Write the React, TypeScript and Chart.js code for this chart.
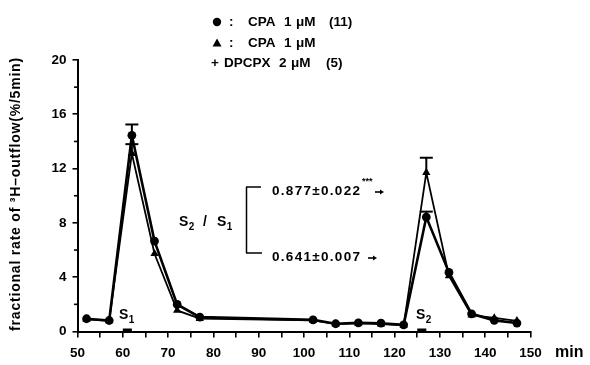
import React, { useEffect, useRef } from 'react';
import { Chart, registerables } from 'chart.js';

Chart.register(...registerables);

// ---- data ----
const times = [52, 57, 62, 67, 72, 77, 102, 107, 112, 117, 122, 127, 132, 137, 142, 147];
const cpaValues = [0.94, 0.81, 14.45, 6.66, 1.99, 1.06, 0.86, 0.57, 0.64, 0.61, 0.49, 8.43, 4.35, 1.3, 0.82, 0.62];
const cpaSem = [0, 0, 0.8, 0, 0, 0, 0, 0, 0, 0, 0, 0.4, 0, 0, 0, 0];
const cpaDpcpxValues = [0.9, 0.78, 13.1, 5.73, 1.55, 0.95, 0.82, 0.55, 0.6, 0.55, 0.45, 11.7, 4.1, 1.2, 1.0, 0.78];
const cpaDpcpxSem = [0, 0, 0.7, 0, 0, 0, 0, 0, 0, 0, 0, 1.1, 0, 0, 0, 0];
const stimPeriods = [
  [60, 62],
  [125, 127],
];
const ratioLabels = ['0.877\u00b10.022', '0.641\u00b10.007'];
const yTitle = 'fractional rate of \u00b3H\u2013outflow(%/5min)';
const xUnit = 'min';

const FONT = '"Liberation Sans", Arial, sans-serif';

function drawSub(ctx: CanvasRenderingContext2D, x: number, y: number, main: string, sub: string) {
  ctx.font = `bold 14px ${FONT}`;
  ctx.textAlign = 'left';
  ctx.textBaseline = 'middle';
  ctx.fillText(main, x, y);
  const w = ctx.measureText(main).width;
  ctx.font = `bold 10px ${FONT}`;
  ctx.fillText(sub, x + w + 0.5, y + 5);
}

const annotationPlugin = {
  id: 'figureAnnotations',
  afterDatasetsDraw(chart: any) {
    const { ctx, scales } = chart;
    const xs = scales.x;
    const ys = scales.y;
    ctx.save();
    ctx.fillStyle = '#000';
    ctx.strokeStyle = '#000';

    const line = (x1: number, y1: number, x2: number, y2: number) => {
      ctx.beginPath();
      ctx.moveTo(x1, y1);
      ctx.lineTo(x2, y2);
      ctx.stroke();
    };

    // minor y ticks (shorter)
    ctx.lineWidth = 1.6;
    ys.ticks.forEach((t: any) => {
      if (t.value % 4 === 0) return;
      const py = ys.getPixelForValue(t.value);
      line(xs.left - 3.5, py, xs.left, py);
    });

    // error bars (upper)
    const drawErr = (vals: number[], sems: number[]) => {
      times.forEach((t, i) => {
        if (!sems[i]) return;
        const px = xs.getPixelForValue(t);
        const top = ys.getPixelForValue(vals[i] + sems[i]);
        const base = ys.getPixelForValue(vals[i]);
        ctx.lineWidth = 2;
        line(px, base, px, top);
        line(px - 6.5, top, px + 6.5, top);
      });
    };
    drawErr(cpaValues, cpaSem);
    drawErr(cpaDpcpxValues, cpaDpcpxSem);

    // stimulation periods
    stimPeriods.forEach(([a, b]) => {
      const x1 = xs.getPixelForValue(a);
      const x2 = xs.getPixelForValue(b);
      const y0 = ys.getPixelForValue(0);
      ctx.fillRect(x1, y0 - 3, x2 - x1, 3.5);
    });

    // S1 / S2 labels
    drawSub(ctx, 119, 315, 'S', '1');
    drawSub(ctx, 416, 315, 'S', '2');

    // S2 / S1 ratio bracket
    drawSub(ctx, 179, 222, 'S', '2');
    ctx.font = `bold 14px ${FONT}`;
    ctx.textBaseline = 'middle';
    ctx.fillText('/', 203, 222);
    drawSub(ctx, 217, 222, 'S', '1');

    ctx.lineWidth = 1.5;
    line(246.5, 187, 246.5, 253);
    line(246, 187, 261, 187);
    line(246, 253, 262, 253);

    ctx.font = `bold 13.5px ${FONT}`;
    ctx.textAlign = 'left';
    ctx.textBaseline = 'middle';
    (ctx as any).letterSpacing = '1.3px';
    ctx.fillText(ratioLabels[0], 272, 191);
    ctx.fillText(ratioLabels[1], 272, 257);
    (ctx as any).letterSpacing = '0px';
    ctx.font = `bold 9px ${FONT}`;
    ctx.fillText('***', 362, 182);
    // small arrows
    const arrow = (x: number, y: number, len: number) => {
      ctx.lineWidth = 1.6;
      line(x, y, x + len, y);
      ctx.beginPath();
      ctx.moveTo(x + len + 2, y);
      ctx.lineTo(x + len - 2, y - 2.5);
      ctx.lineTo(x + len - 2, y + 2.5);
      ctx.closePath();
      ctx.fill();
    };
    arrow(375, 192, 7);
    arrow(368, 258, 7);

    // legend
    ctx.font = `bold 13.5px ${FONT}`;
    ctx.textBaseline = 'middle';
    const rows: [number, [number, string][]][] = [
      [22, [[229, ':'], [248, 'CPA'], [284, '1'], [296, '\u03bcM'], [329, '(11)']]],
      [43, [[229, ':'], [248, 'CPA'], [284, '1'], [296, '\u03bcM']]],
      [63, [[211, '+'], [224, 'DPCPX'], [279, '2'], [291, '\u03bcM'], [326, '(5)']]],
    ];
    rows.forEach(([yy, items]) => {
      items.forEach(([xx, txt]) => ctx.fillText(txt, xx, yy));
    });
    ctx.beginPath();
    ctx.arc(217, 22, 4.2, 0, Math.PI * 2);
    ctx.fill();
    ctx.beginPath();
    ctx.moveTo(217, 38.5);
    ctx.lineTo(221.5, 46.5);
    ctx.lineTo(212.5, 46.5);
    ctx.closePath();
    ctx.fill();

    // x unit
    ctx.font = `bold 16px ${FONT}`;
    ctx.textAlign = 'left';
    ctx.fillText(xUnit, 555, 353);

    // y title
    ctx.save();
    ctx.translate(16, 194);
    ctx.rotate(-Math.PI / 2);
    ctx.font = `bold 14px ${FONT}`;
    const natural = ctx.measureText(yTitle).width;
    const target = 273;
    if (natural < target) {
      (ctx as any).letterSpacing = `${(target - natural) / (yTitle.length - 1)}px`;
    }
    ctx.textAlign = 'center';
    ctx.textBaseline = 'middle';
    ctx.fillText(yTitle, 0, 0);
    ctx.restore();

    ctx.restore();
  },
};

export default function App() {
  const canvasRef = useRef<HTMLCanvasElement | null>(null);

  useEffect(() => {
    const canvas = canvasRef.current;
    if (!canvas) return;
    const tickFont = { family: FONT, size: 13.5, weight: 'bold' as const };
    const chart = new Chart(canvas, {
      type: 'line',
      data: {
        datasets: [
          {
            label: 'CPA 1 \u03bcM (11)',
            data: times.map((t, i) => ({ x: t, y: cpaValues[i] })),
            borderColor: '#000',
            backgroundColor: '#000',
            borderWidth: 2.6,
            pointStyle: 'circle',
            pointRadius: 4.4,
            pointBorderWidth: 0,
            tension: 0,
          },
          {
            label: 'CPA 1 \u03bcM + DPCPX 2 \u03bcM (5)',
            data: times.map((t, i) => ({ x: t, y: cpaDpcpxValues[i] })),
            borderColor: '#000',
            backgroundColor: '#000',
            borderWidth: 1.8,
            pointStyle: 'triangle',
            pointRadius: 4.8,
            pointBorderWidth: 0,
            tension: 0,
          },
        ],
      },
      options: {
        responsive: false,
        animation: false,
        devicePixelRatio: 1,
        layout: { padding: { left: 0, top: 60, right: 59.5, bottom: 0 } },
        plugins: { legend: { display: false }, tooltip: { enabled: false } },
        scales: {
          x: {
            type: 'linear',
            min: 50,
            max: 150,
            afterFit: (s: any) => {
              s.height = 33.5;
            },
            ticks: {
              stepSize: 5,
              autoSkip: false,
              maxRotation: 0,
              padding: 8,
              color: '#000',
              font: tickFont,
              callback: (v: any) => (Number(v) % 10 === 0 ? String(v) : ''),
            },
            grid: { drawOnChartArea: false, drawTicks: true, tickLength: 6, color: '#000', lineWidth: 1.6 },
            border: { display: true, color: '#000', width: 2 },
          },
          y: {
            type: 'linear',
            min: 0,
            max: 20,
            afterFit: (s: any) => {
              s.width = 77.5;
            },
            ticks: {
              stepSize: 2,
              autoSkip: false,
              padding: 6,
              color: '#000',
              font: tickFont,
              callback: (v: any) => (Number(v) % 4 === 0 ? String(v) : ''),
            },
            grid: {
              drawOnChartArea: false,
              drawTicks: true,
              tickLength: 5,
              color: '#000',
              tickColor: (c: any) => (c.tick && c.tick.value % 4 === 0 ? '#000' : 'rgba(0,0,0,0)'),
              lineWidth: 1.6,
            },
            border: { display: true, color: '#000', width: 2 },
          },
        },
      },
      plugins: [annotationPlugin],
    });
    return () => chart.destroy();
  }, []);

  return (
    <div style={{ position: 'fixed', left: 0, top: 0, width: 590, height: 365, background: '#fff' }}>
      <canvas ref={canvasRef} width={590} height={365} style={{ width: 590, height: 365 }} />
    </div>
  );
}
